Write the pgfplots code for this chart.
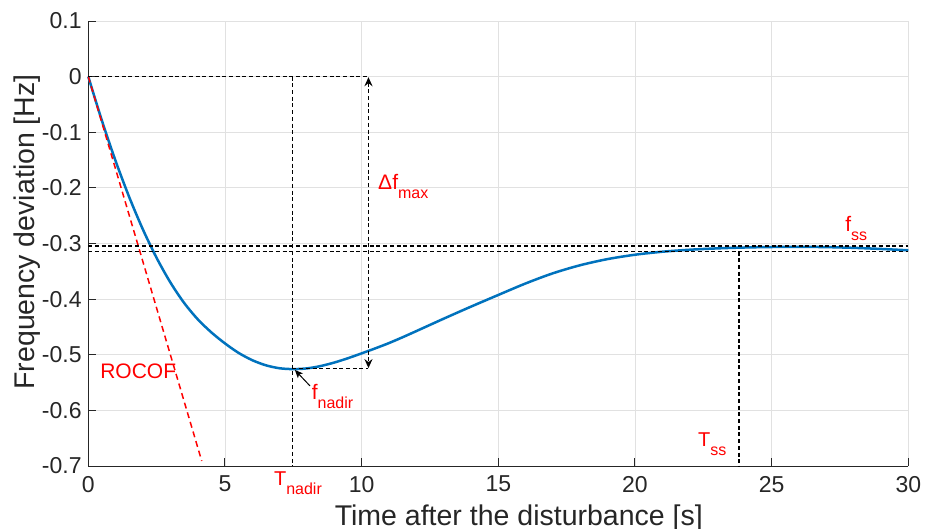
\documentclass[border=0pt]{standalone}
\usepackage{fontspec}
\setmainfont{Liberation Sans}
\usepackage{pgfplots}
\pgfplotsset{compat=1.18}
\usetikzlibrary{arrows.meta}
\definecolor{mblue}{RGB}{0,114,189}
\definecolor{axgray}{RGB}{38,38,38}
\definecolor{gridc}{RGB}{225,225,225}
\newcommand{\sub}[1]{\raisebox{-9pt}{\fontsize{16}{16}\selectfont #1}}
\begin{document}
\begin{tikzpicture}
\begin{axis}[
  name=ax, at={(0,0)}, anchor=south west,
  scale only axis, width=820pt, height=445pt,
  xmin=0, xmax=30, ymin=-0.7, ymax=0.1,
  axis x line*=bottom, axis y line*=left,
  axis line style={axgray, line width=1pt, -},
  xtick={0,5,10,15,20,25,30},
  xticklabels={0,5,10,15,20,25,30},
  ytick={-0.7,-0.6,-0.5,-0.4,-0.3,-0.2,-0.1,0,0.1},
  yticklabels={-0.7,-0.6,-0.5,-0.4,-0.3,-0.2,-0.1,0,0.1},
  tick align=inside, major tick length=8pt,
  tick style={axgray, line width=1pt},
  grid=major, major grid style={gridc, line width=0.8pt},
  ticklabel style={font=\fontsize{23}{26}\selectfont, text=axgray},
  yticklabel style={inner sep=3pt, xshift=-3.5pt},
  xticklabel style={anchor=north, yshift=-6.5pt},
  xlabel={Time after the disturbance [s]},
  xlabel style={at={(axis description cs:0.525,-0.1326)}, anchor=base, font=\fontsize{28.5}{32}\selectfont, text=axgray},
  ylabel={Frequency deviation [Hz]},
  ylabel style={at={(axis description cs:-0.065,0.526)}, anchor=base, font=\fontsize{28.5}{32}\selectfont, text=axgray},
  clip=false,
]
% frequency response
\addplot[mblue, line width=2.5pt, smooth] coordinates {
(0,0) (0.5,-0.0794) (1,-0.1518) (1.5,-0.2169) (2,-0.275) (2.5,-0.3259)
(3,-0.3697) (3.5,-0.4064) (4,-0.436) (4.5,-0.4597) (5,-0.4796) (5.5,-0.4967)
(6,-0.5098) (6.5,-0.5190) (7,-0.5243) (7.5,-0.5258) (8,-0.5245) (8.5,-0.5203)
(9,-0.514) (9.5,-0.5062) (10,-0.4975) (10.5,-0.4885) (11,-0.479) (11.5,-0.4685)
(12,-0.4575) (13,-0.4352) (14,-0.4135) (15,-0.3925) (16,-0.3718) (17,-0.3535)
(18,-0.339) (19,-0.328) (20,-0.3202) (21,-0.3148) (22,-0.3112) (23,-0.3088)
(24,-0.3072) (25,-0.3063) (26,-0.306) (27,-0.3065) (28,-0.3078) (29,-0.3098) (30,-0.3122)
};
% ROCOF tangent
\addplot[red, line width=1.5pt, dash pattern=on 6pt off 4pt] coordinates {(0,0) (4.15,-0.691)};
% guide lines
\addplot[black, line width=1.5pt, dash pattern=on 4pt off 2.7pt] coordinates {(0,0) (10.25,0)};
\addplot[black, line width=1.5pt, dash pattern=on 4pt off 2.7pt] coordinates {(7.47,0) (7.47,-0.7)};
\addplot[black, line width=1.5pt, dash pattern=on 4pt off 2.7pt] coordinates {(7.47,-0.525) (10.25,-0.525)};
\addplot[black, line width=1.5pt, dash pattern=on 4pt off 2.7pt] coordinates {(0,-0.3045) (30,-0.3045)};
\addplot[black, line width=1.5pt, dash pattern=on 4pt off 2.7pt] coordinates {(0,-0.3145) (30,-0.3145)};
\addplot[black, line width=1.5pt, dash pattern=on 4pt off 2.7pt] coordinates {(23.8,-0.3145) (23.8,-0.7)};
% arrows
\draw[black, line width=1.5pt, dash pattern=on 4pt off 2.7pt,
  {Stealth[length=9pt,width=8pt,inset=3pt]}-{Stealth[length=9pt,width=8pt,inset=3pt]}]
  (axis cs:10.25,-0.001) -- (axis cs:10.25,-0.524);
\draw[black, line width=1pt, -{Stealth[length=8pt,width=7pt,inset=2pt]}]
  (axis cs:8.11,-0.556) -- (axis cs:7.56,-0.5274);
% labels
\node[anchor=base west, text=red, font=\fontsize{21}{24}\selectfont, inner sep=0pt] at (axis cs:0.43,-0.5423) {ROCOF};
\node[anchor=base west, text=red, font=\fontsize{21}{24}\selectfont, inner sep=0pt] at (axis cs:10.6,-0.2038) {Δf\sub{max}};
\node[anchor=base west, text=red, font=\fontsize{21}{24}\selectfont, inner sep=0pt] at (axis cs:8.17,-0.5796) {f\sub{nadir}};
\node[anchor=base west, text=red, font=\fontsize{21}{24}\selectfont, inner sep=0pt] at (axis cs:27.69,-0.2788) {f\sub{ss}};
\node[anchor=base west, text=red, font=\fontsize{20}{24}\selectfont, inner sep=0pt] at (axis cs:6.79,-0.7354) {T\sub{nadir}};
\node[anchor=base west, text=red, font=\fontsize{20}{24}\selectfont, inner sep=0pt] at (axis cs:22.30,-0.6653) {T\sub{ss}};
\end{axis}
\pgfresetboundingbox
\path[use as bounding box] (-88.3pt,-62pt) rectangle (837.7pt,466pt);
\end{tikzpicture}
\end{document}
